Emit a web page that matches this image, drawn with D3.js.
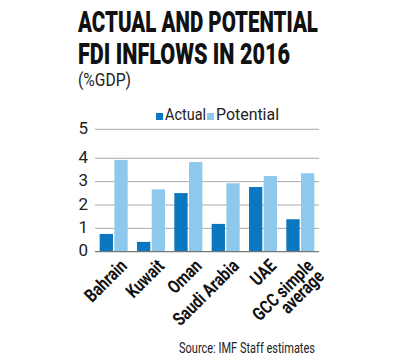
<!DOCTYPE html>
<html>
<head>
<meta charset="utf-8">
<script src="https://cdn.jsdelivr.net/npm/d3@7"></script>
<style>
  body { margin: 0; background: #fff; }
  svg { display: block; font-family: Roboto, "Liberation Sans", sans-serif; }
</style>
</head>
<body>
<div id="chart"></div>
<script>
const countries = ['Bahrain', 'Kuwait', 'Oman', 'Saudi Arabia', 'UAE', 'GCC simple|average'];
const actual = [0.76, 0.42, 2.51, 1.19, 2.77, 1.39];
const potential = [3.93, 2.67, 3.84, 2.93, 3.24, 3.36];
const yTicks = [0, 1, 2, 3, 4, 5];
const seriesNames = ['Actual', 'Potential'];
const colors = ['#0b77c0', '#8ec8ec'];

const width = 400;
const height = 362;

const svg = d3.select('#chart')
  .append('svg')
  .attr('width', width)
  .attr('height', height);

// titles: smaller font stretched vertically to mimic the condensed face
const titleLine = (txt, ty, len) => {
  svg.append('text')
    .attr('transform', `translate(78,${ty}) scale(1,1.32)`)
    .attr('font-size', 22).attr('font-weight', 900)
    .attr('textLength', len).attr('lengthAdjust', 'spacingAndGlyphs')
    .attr('fill', '#111')
    .text(txt);
};
titleLine('ACTUAL AND POTENTIAL', 32, 240);
titleLine('FDI INFLOWS IN 2016', 64, 212);

svg.append('text')
  .attr('x', 78).attr('y', 86)
  .attr('font-size', 18)
  .attr('textLength', 53).attr('lengthAdjust', 'spacingAndGlyphs')
  .attr('fill', '#222')
  .text('(%GDP)');

// the printed axis has a taller gap between 4 and 5
const y = d3.scaleLinear()
  .domain([0, 4, 5])
  .range([251.7, 158.3, 129.3]);

const x0 = d3.scaleBand()
  .domain(countries)
  .range([95, 319])
  .paddingInner(0.25)
  .paddingOuter(0.125);

const x1 = d3.scaleBand()
  .domain(seriesNames)
  .range([0, x0.bandwidth()]);

// gridlines
svg.append('g')
  .selectAll('line')
  .data(yTicks.filter((d) => d > 0))
  .join('line')
  .attr('x1', 95).attr('x2', 319)
  .attr('y1', (d) => y(d)).attr('y2', (d) => y(d))
  .attr('stroke', '#a8a8a8')
  .attr('stroke-width', 1);

// y labels
svg.append('g')
  .selectAll('text')
  .data(yTicks)
  .join('text')
  .attr('x', 88)
  .attr('y', (d) => y(d) + 4.5)
  .attr('text-anchor', 'end')
  .attr('font-size', 17)
  .attr('fill', '#222')
  .text((d) => d);

// bars
const rows = countries.map((c, i) => ({ c, vals: [actual[i], potential[i]] }));
svg.append('g')
  .selectAll('g')
  .data(rows)
  .join('g')
  .attr('transform', (d) => `translate(${x0(d.c)},0)`)
  .selectAll('rect')
  .data((d) => d.vals.map((v, j) => ({ key: seriesNames[j], v })))
  .join('rect')
  .attr('x', (d) => x1(d.key) + (d.key === 'Potential' ? 0.7 : 0))
  .attr('width', x1.bandwidth() - 0.7)
  .attr('y', (d) => y(d.v))
  .attr('height', (d) => y(0) - y(d.v))
  .attr('fill', (d, j) => colors[j]);

// baseline
svg.append('line')
  .attr('x1', 95).attr('x2', 319)
  .attr('y1', y(0)).attr('y2', y(0))
  .attr('stroke', '#777')
  .attr('stroke-width', 1.2);

// x labels
const xl = svg.append('g')
  .selectAll('text')
  .data(countries)
  .join('text')
  .attr('transform', (d) => `translate(${x0(d) + x0.bandwidth() / 2 + 5},${y(0) + 6}) rotate(-45) scale(0.8,1)`)
  .attr('text-anchor', 'end')
  .attr('font-size', 18.5)
  .attr('font-weight', 700)
  .attr('fill', '#111');
xl.each(function (d) {
  const parts = d.split('|');
  d3.select(this)
    .selectAll('tspan')
    .data(parts)
    .join('tspan')
    .attr('x', 0)
    .attr('dy', (p, i) => (i === 0 ? '0.72em' : '0.8em'))
    .text((p) => p);
});

// legend
const legend = svg.append('g');
const legendX = [156, 207];
const legendW = [41, 63];
seriesNames.forEach((s, i) => {
  legend.append('rect')
    .attr('x', legendX[i]).attr('y', 113)
    .attr('width', 7).attr('height', 7)
    .attr('fill', colors[i]);
  legend.append('text')
    .attr('x', legendX[i] + 9).attr('y', 120)
    .attr('font-size', 17)
    .attr('textLength', legendW[i]).attr('lengthAdjust', 'spacingAndGlyphs')
    .attr('fill', '#222')
    .text(s);
});

// source
svg.append('text')
  .attr('x', 179).attr('y', 353)
  .attr('font-size', 14)
  .attr('textLength', 136).attr('lengthAdjust', 'spacingAndGlyphs')
  .attr('fill', '#222')
  .text('Source: IMF Staff estimates');
</script>
</body>
</html>
